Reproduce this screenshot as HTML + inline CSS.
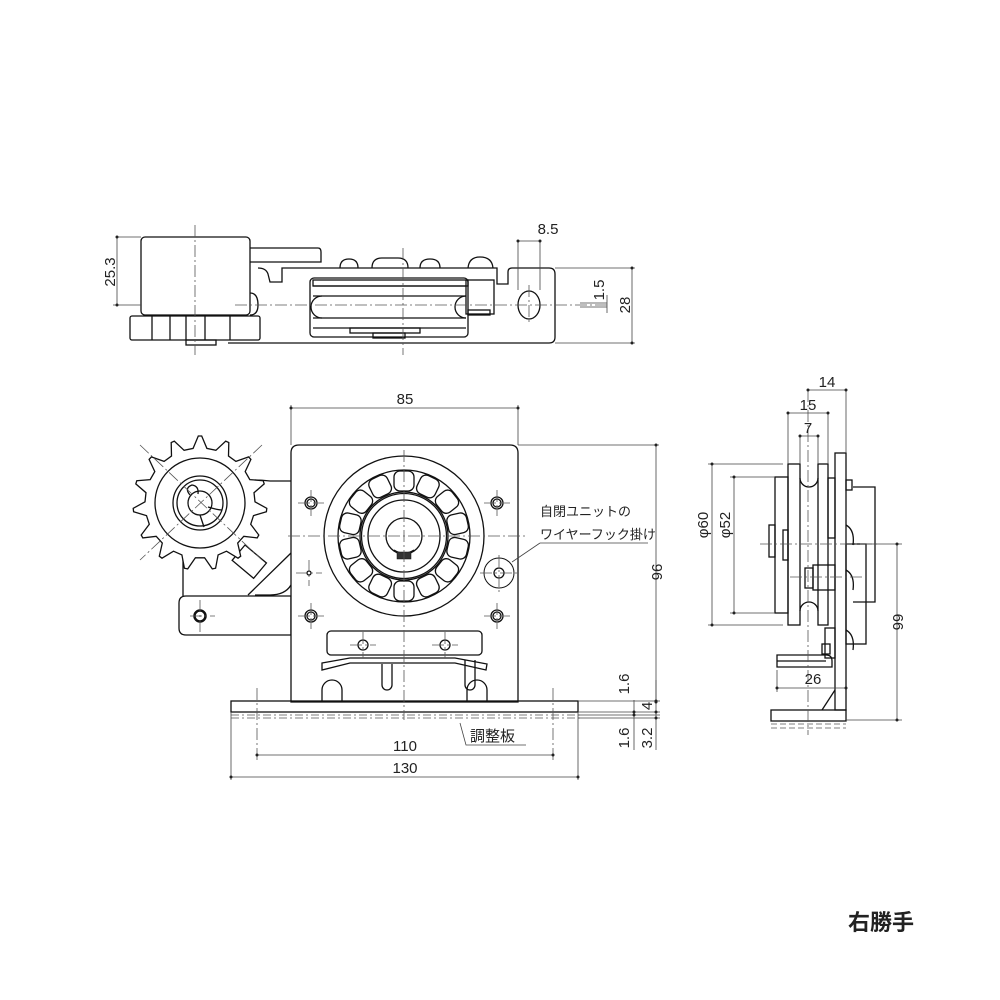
<!DOCTYPE html>
<html><head><meta charset="utf-8"><style>
html,body{margin:0;padding:0;background:#fff;}
svg{display:block;}
text{font-family:"Liberation Sans","Noto Sans CJK JP",sans-serif;fill:#222;}
</style></head><body>
<svg id="s" width="1000" height="1000" viewBox="0 0 1000 1000" xmlns="http://www.w3.org/2000/svg">
<g fill="none" stroke="#111" stroke-width="1.3">
<!-- ===== TOP VIEW ===== -->
<rect x="141" y="237" width="109" height="78" rx="4" fill="#fff"/>
<path d="M250 248 H318 Q321 248 321 252 V262 H250"/>
<path d="M258 268 Q266 268 268 274 L270 282 H282 V268 H497 V284 H508 V272 Q508 268 512 268 H549 Q555 268 555 274 V337 Q555 343 549 343 H228"/>
<rect x="130" y="316" width="130" height="24" rx="2"/>
<path d="M152 316 V340 M170 316 V340 M186 316 V340 M205 316 V340 M230 316 V340"/>
<rect x="186" y="340" width="30" height="5"/>
<rect x="310" y="278" width="158" height="59" rx="4"/>
<rect x="313" y="280" width="155" height="6"/>
<path d="M313 286 H466 M313 296 H466 M313 318 H466 M313 328 H466"/>
<path d="M322 296 A9 9 0 0 0 322 318"/>
<path d="M466 296 A9 9 0 0 0 466 318"/>
<rect x="466" y="280" width="28" height="34"/>
<rect x="468" y="310" width="22" height="5"/>
<rect x="350" y="328" width="70" height="5"/>
<rect x="373" y="333" width="32" height="5"/>
<path d="M340 268 Q340 259 349 259 Q358 259 358 268"/>
<path d="M372 268 Q372 258 382 258 H398 Q408 258 408 268"/>
<path d="M420 268 Q420 259 430 259 Q440 259 440 268"/>
<path d="M468 268 Q469 257 480 257 Q492 257 493 268"/>
<path d="M250 293 Q258 293 258 305 Q258 315 250 315"/>
<ellipse cx="529" cy="305" rx="11" ry="14"/>
</g>
<g fill="none" stroke="#555" stroke-width="0.8" stroke-dasharray="12 3 2 3">
<path d="M235 305 H610"/>
<path d="M195 225 V355"/>
<path d="M403 248 V355"/>
<path d="M529 285 V325"/>
</g>
<g fill="none" stroke="#444" stroke-width="0.8">
<path d="M117 237 V305 M117 237 H141 M113 305 H141"/>
<path d="M518 241 H540 M518 241 V290 M540 241 V290"/>
<path d="M555 268 H635 M555 343 H635 M632 268 V343"/>
<path d="M580 303 H607 M580 307 H607 M607 295 V313"/>
</g>
<g fill="#222">
<circle cx="117" cy="237" r="1.5"/><circle cx="117" cy="305" r="1.5"/>
<circle cx="518" cy="241" r="1.5"/><circle cx="540" cy="241" r="1.5"/>
<circle cx="632" cy="268" r="1.5"/><circle cx="632" cy="343" r="1.5"/>
</g>
<text x="0" y="0" font-size="15" transform="translate(115,272) rotate(-90)" text-anchor="middle">25.3</text>
<text x="548" y="234" font-size="15" text-anchor="middle">8.5</text>
<text font-size="15" transform="translate(604,290) rotate(-90)" text-anchor="middle">1.5</text>
<text font-size="15" transform="translate(630,305) rotate(-90)" text-anchor="middle">28</text>

<!-- ===== FRONT VIEW ===== -->
<g fill="none" stroke="#111" stroke-width="1.3">
<path d="M183 596 V560 Q186 554 190 560" />
<path d="M255 480 Q262 480 270 481 H291"/>
<path d="M248 595 L291 553"/>
<path d="M255 595 H270 Q285 595 291 585"/>
<path d="M186 596 H291 V635 H186 Q179 635 179 628 V603 Q179 596 186 596 Z" fill="#fff"/>
<circle cx="200" cy="616" r="5.5" stroke-width="2.5"/>
<rect x="0" y="0" width="28" height="20" transform="translate(245,545) rotate(40)"/>
<path id="gear" fill="#fff"/>
<circle cx="200" cy="503" r="45"/>
<circle cx="200" cy="503" r="27"/>
<circle cx="200" cy="503" r="23"/>
<circle cx="200" cy="503" r="12"/>
<path d="M190 495 Q184 488 192 485 Q199 486 198 494"/>
<path d="M208 507 Q218 510 222 510 M200 515 L204 527"/>
<path d="M299 445 H510 Q518 445 518 453 V702 H291 V453 Q291 445 299 445 Z" fill="#fff"/>
<circle cx="404" cy="536" r="80"/>
<circle cx="404" cy="536" r="66"/>
<circle cx="404" cy="536" r="44"/>
<circle cx="404" cy="536" r="42.5"/>
<circle cx="404" cy="536" r="36"/>
<circle cx="404" cy="536" r="18"/>
<g id="pockets"></g>
<path d="M394 550 A18 18 0 0 0 414 550"/>
<rect x="397" y="552" width="14" height="7" fill="#333" stroke-width="0.5"/>
<circle cx="311" cy="503" r="6"/><circle cx="311" cy="503" r="4"/>
<circle cx="497" cy="503" r="6"/><circle cx="497" cy="503" r="4"/>
<circle cx="311" cy="616" r="6"/><circle cx="311" cy="616" r="4"/>
<circle cx="497" cy="616" r="6"/><circle cx="497" cy="616" r="4"/>
<circle cx="309" cy="573" r="2"/>
<circle cx="499" cy="573" r="15" stroke-width="1"/>
<circle cx="499" cy="573" r="5"/>
<rect x="327" y="631" width="155" height="24" rx="4"/>
<circle cx="363" cy="645" r="5"/><circle cx="445" cy="645" r="5"/>
<path d="M322 663 L350 658 H455 L487 664 L486 670 L455 663 H350 L322 670 Z" fill="#fff"/>
<path d="M382 664 V685 A5 5 0 0 0 392 685 V664"/>
<path d="M465 660 V685 A5 5 0 0 0 475 685 V660"/>
<path d="M322 702 V690 A10 10 0 0 1 342 690 V702"/>
<path d="M467 702 V690 A10 10 0 0 1 487 690 V702"/>
<rect x="231" y="701" width="347" height="11"/>
</g>
<g fill="none" stroke="#555" stroke-width="0.8" stroke-dasharray="12 3 2 3">
<path d="M404 450 V720"/>
<path d="M288 536 H528"/>
<path d="M140 445 L262 560 M262 445 L140 560"/>
<path d="M298 503 H324 M311 490 V516 M484 503 H510 M497 490 V516 M298 616 H324 M311 603 V629 M484 616 H510 M497 603 V629 M296 573 H322 M309 560 V586 M480 573 H518 M499 555 V592"/>
<path d="M190 616 H215 M200 600 V632"/>
<path d="M350 645 H376 M363 632 V658 M432 645 H458 M445 632 V658"/>
<path d="M231 715 H580 M231 718 H580" stroke-dasharray="8 3 2 3"/>
<path d="M257 688 V760 M553 688 V760"/>
</g>
<g fill="none" stroke="#444" stroke-width="0.8">
<path d="M291 408 H518 M291 405 V445 M518 405 V445"/>
<path d="M518 445 H659 M656 445 V702 M578 701 H660 M578 712 H660 M578 715 H660 M578 718 H660"/>
<path d="M634 712 V718 M656 712 V718 M656 680 V750 M634 700 V750"/>
<path d="M257 755 H553 M231 777 H578 M231 712 V780 M578 712 V780"/>
<path d="M460 723 L466 745 H526"/>
<path d="M540 543 H648 M540 543 L512 562"/>
</g>
<g fill="#222">
<circle cx="291" cy="408" r="1.5"/><circle cx="518" cy="408" r="1.5"/>
<circle cx="656" cy="445" r="1.5"/><circle cx="656" cy="702" r="1.5"/>
<circle cx="257" cy="755" r="1.5"/><circle cx="553" cy="755" r="1.5"/>
<circle cx="231" cy="777" r="1.5"/><circle cx="578" cy="777" r="1.5"/>
<circle cx="634" cy="712" r="1.5"/><circle cx="634" cy="715" r="1.5"/>
<circle cx="656" cy="701" r="1.5"/><circle cx="656" cy="712" r="1.5"/><circle cx="656" cy="718" r="1.5"/>
</g>
<text x="405" y="404" font-size="15" text-anchor="middle">85</text>
<text font-size="15" transform="translate(652,572) rotate(90)" text-anchor="middle">96</text>
<text font-size="15" transform="translate(629,684) rotate(-90)" text-anchor="middle">1.6</text>
<text font-size="15" transform="translate(652,706) rotate(-90)" text-anchor="middle">4</text>
<text font-size="15" transform="translate(629,738) rotate(-90)" text-anchor="middle">1.6</text>
<text font-size="15" transform="translate(652,738) rotate(-90)" text-anchor="middle">3.2</text>
<text x="405" y="751" font-size="15" text-anchor="middle">110</text>
<text x="405" y="773" font-size="15" text-anchor="middle">130</text>
<text x="470" y="741" font-size="15">調整板</text>
<text x="540" y="516" font-size="13">自閉ユニットの</text>
<text x="540" y="539" font-size="13">ワイヤーフック掛け</text>

<!-- ===== SIDE VIEW ===== -->
<g fill="none" stroke="#111" stroke-width="1.3">
<rect x="835" y="453" width="11" height="257"/>
<rect x="771" y="710" width="75" height="11"/>
<rect x="775" y="477" width="13" height="136"/>
<rect x="788" y="464" width="12" height="161"/>
<rect x="818" y="464" width="10" height="161"/>
<path d="M800 478 A9 9 0 0 0 818 478 M800 611 A9 9 0 0 1 818 611"/>
<rect x="828" y="478" width="7" height="60"/>
<rect x="769" y="525" width="6" height="32"/>
<rect x="783" y="530" width="5" height="30"/>
<rect x="805" y="568" width="8" height="20"/>
<rect x="813" y="565" width="22" height="25"/>
<rect x="846" y="480" width="6" height="10"/>
<path d="M853 487 H875 V602 H853"/>
<rect x="846" y="544" width="20" height="100"/>
<path d="M846 525 Q855 530 853 545 M846 570 Q855 575 853 590 M846 630 Q855 635 853 650"/>
<rect x="825" y="628" width="10" height="30"/>
<rect x="822" y="644" width="8" height="10"/>
<path d="M777 655 H826 Q832 655 832 661 V667 H777 Z M777 661 H826"/>
<path d="M822 710 L835 690"/>
</g>
<g fill="none" stroke="#555" stroke-width="0.8" stroke-dasharray="12 3 2 3">
<path d="M808 390 V735"/>
<path d="M760 544 H880 M790 577 H865"/>
<path d="M771 724 H846 M771 728 H846" stroke-dasharray="6 3"/>
</g>
<g fill="none" stroke="#444" stroke-width="0.8">
<path d="M808 390 H846 M846 390 V453 M788 413 H828 M788 413 V464 M828 413 V464 M800 436 H818 M800 436 V464 M818 436 V464"/>
<path d="M708 464 H783 M712 464 V625 M708 625 H783 M730 477 H775 M734 477 V613 M730 613 H775"/>
<path d="M866 544 H902 M897 544 V720 M846 720 H902"/>
<path d="M777 688 H846 M777 670 V692"/>
</g>
<g fill="#222">
<circle cx="808" cy="390" r="1.5"/><circle cx="846" cy="390" r="1.5"/>
<circle cx="788" cy="413" r="1.5"/><circle cx="828" cy="413" r="1.5"/>
<circle cx="800" cy="436" r="1.5"/><circle cx="818" cy="436" r="1.5"/>
<circle cx="712" cy="464" r="1.5"/><circle cx="712" cy="625" r="1.5"/>
<circle cx="734" cy="477" r="1.5"/><circle cx="734" cy="613" r="1.5"/>
<circle cx="897" cy="544" r="1.5"/><circle cx="897" cy="720" r="1.5"/>
<circle cx="777" cy="688" r="1.5"/><circle cx="846" cy="688" r="1.5"/>
</g>
<text x="827" y="387" font-size="15" text-anchor="middle">14</text>
<text x="808" y="410" font-size="15" text-anchor="middle">15</text>
<text x="808" y="433" font-size="15" text-anchor="middle">7</text>
<text font-size="15" transform="translate(708,525) rotate(-90)" text-anchor="middle">φ60</text>
<text font-size="15" transform="translate(730,525) rotate(-90)" text-anchor="middle">φ52</text>
<text font-size="15" transform="translate(893,622) rotate(90)" text-anchor="middle">66</text>
<text x="813" y="684" font-size="15" text-anchor="middle">26</text>

<text x="848" y="930" font-size="22" font-weight="bold" style="font-family:'Noto Sans CJK JP',sans-serif">右勝手</text>
</svg>
<script>
(function(){
var cx=200,cy=503,n=15,ro=67,ri=55,d="";
for(var i=0;i<n;i++){
 var a=i*2*Math.PI/n-Math.PI/2,s=2*Math.PI/n;
 var pts=[[ri,a-s*0.3],[ro,a-s*0.06],[ro,a+s*0.06],[ri,a+s*0.3],[ri,a+s*0.7]];
 pts.forEach(function(p,j){var x=cx+p[0]*Math.cos(p[1]),y=cy+p[0]*Math.sin(p[1]);d+=(i==0&&j==0?"M":"L")+x.toFixed(1)+" "+y.toFixed(1)+" ";});
}
document.getElementById("gear").setAttribute("d",d+"Z");
var g=document.getElementById("pockets"),ns="http://www.w3.org/2000/svg";
for(var k=0;k<14;k++){
 var ang=k*360/14;
 var r=document.createElementNS(ns,"rect");
 r.setAttribute("x",-10);r.setAttribute("y",-65);r.setAttribute("width",20);r.setAttribute("height",20);r.setAttribute("rx",6);
 r.setAttribute("transform","translate(404,536) rotate("+ang+")");
 g.appendChild(r);
}
})();
</script>
</body></html>
